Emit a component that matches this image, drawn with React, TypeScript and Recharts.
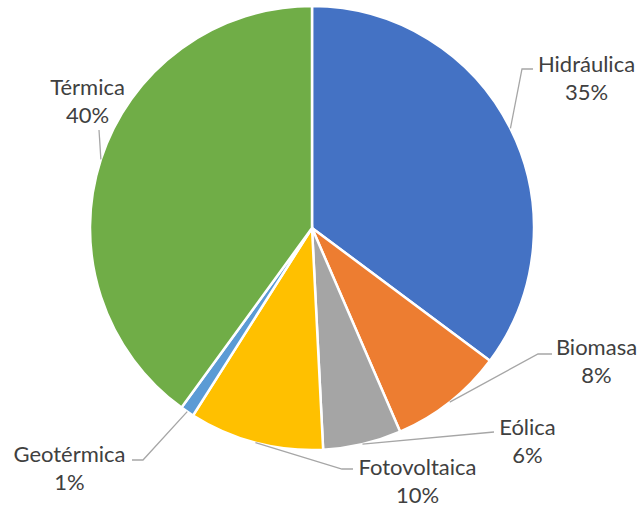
import React from 'react';
import { PieChart, Pie, Cell } from 'recharts';

const categories = ['Hidráulica', 'Biomasa', 'Eólica', 'Fotovoltaica', 'Geotérmica', 'Térmica'];
const shares = [35.2, 8.3, 5.7, 9.8, 1.0, 40.0];
const percentLabels = ['35%', '8%', '6%', '10%', '1%', '40%'];

const COLORS = ['#4472C4', '#ED7D31', '#A5A5A5', '#FFC000', '#5B9BD5', '#70AD47'];

// label layout, offsets relative to the pie centre
// tx/ty: text centre x / first baseline; ex/ey: leader elbow; lx/ly: leader end
const LABEL_POS = [
  { tx: 274.5, ty: -156, ex: 210, ey: -159, lx: 221, ly: -159 },
  { tx: 284.5, ty: 127, ex: 226, ey: 126, lx: 240, ly: 126 },
  { tx: 215.5, ty: 207, ex: 182, ey: 204, lx: 182, ly: 204 },
  { tx: 105.5, ty: 247, ex: 30, ey: 241, lx: 41, ly: 241 },
  { tx: -242.5, ty: 234, ex: -169, ey: 232, lx: -180, ly: 232 },
  { tx: -224.5, ty: -133, ex: -213, ey: -98, lx: -213, ly: -98 },
];

const data = categories.map((name, i) => ({ name, value: shares[i], pct: percentLabels[i] }));

const RADIAN = Math.PI / 180;

const renderLabel = (props: any) => {
  const { cx, cy, midAngle, outerRadius, index } = props;
  const pos = LABEL_POS[index];
  const sx = cx + outerRadius * Math.cos(-midAngle * RADIAN);
  const sy = cy + outerRadius * Math.sin(-midAngle * RADIAN);
  const pts = `${sx},${sy} ${cx + pos.ex},${cy + pos.ey} ${cx + pos.lx},${cy + pos.ly}`;
  return (
    <g key={`lbl-${index}`}>
      <polyline points={pts} fill="none" stroke="#A6A6A6" strokeWidth={1.3} />
      <text
        x={cx + pos.tx}
        y={cy + pos.ty}
        textAnchor="middle"
        fill="#404040"
        fontSize={22}
        fontFamily="Lato, 'Open Sans', sans-serif"
      >
        <tspan x={cx + pos.tx}>{data[index].name}</tspan>
        <tspan x={cx + pos.tx} dy={28}>{data[index].pct}</tspan>
      </text>
    </g>
  );
};

export default function App() {
  return (
    <div style={{ position: 'absolute', left: 0, top: 0, width: 638, height: 508, background: '#fff' }}>
      <PieChart width={638} height={508} margin={{ top: 0, right: 0, bottom: 0, left: 0 }}>
        <Pie
          data={data}
          dataKey="value"
          nameKey="name"
          cx={312}
          cy={228}
          outerRadius={222}
          startAngle={90}
          endAngle={-270}
          stroke="#fff"
          strokeWidth={2.5}
          label={renderLabel}
          labelLine={false}
          isAnimationActive={false}
        >
          {data.map((d, i) => (
            <Cell key={d.name} fill={COLORS[i]} />
          ))}
        </Pie>
      </PieChart>
    </div>
  );
}
